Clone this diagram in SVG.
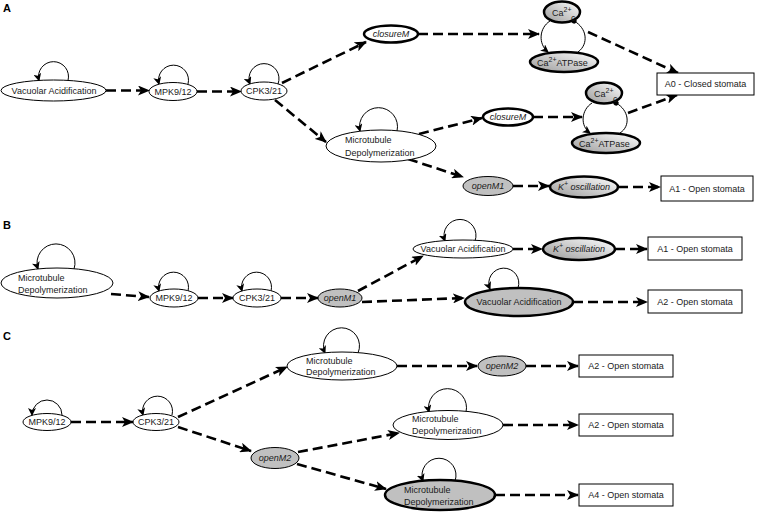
<svg xmlns="http://www.w3.org/2000/svg" width="758" height="512" viewBox="0 0 758 512">
<style>
text{font-family:"Liberation Sans",Arial,sans-serif;font-size:9px;fill:#1a1a1a}
.c{text-anchor:middle}
.i{font-style:italic}
.p{font-weight:bold;font-size:11px;fill:#000}
.n{fill:#fff;stroke:#000;stroke-width:1}
.g{fill:#c0c0c0}
.k{stroke-width:2.5}
.gr{fill:url(#grad)}
.box{fill:#fff;stroke:#000;stroke-width:1}
.e{fill:none;stroke:#000;stroke-width:2.6;stroke-dasharray:10 5;marker-end:url(#ah)}
.l{fill:none;stroke:#000;stroke-width:1;marker-end:url(#la)}
.d{fill:none;stroke:#000;stroke-width:1;marker-end:url(#dot)}
</style>
<defs>
<linearGradient id="grad" x1="0" y1="1" x2="1" y2="0">
<stop offset="0" stop-color="#9a9a9a"/>
<stop offset="1" stop-color="#ffffff"/>
</linearGradient>
<marker id="ah" markerUnits="userSpaceOnUse" markerWidth="12" markerHeight="10" refX="11" refY="5" orient="auto" viewBox="0 0 12 10"><path d="M0,0 L12,5 L0,10 L3,5z" fill="#000"/></marker>
<marker id="la" markerUnits="userSpaceOnUse" markerWidth="8" markerHeight="8" refX="7" refY="4" orient="auto" viewBox="0 0 8 8"><path d="M0,0 L8,4 L0,8 L2,4z" fill="#000"/></marker>
<marker id="dot" markerUnits="userSpaceOnUse" markerWidth="6" markerHeight="6" refX="3" refY="3" orient="auto" viewBox="0 0 6 6"><circle cx="3" cy="3" r="2.6" fill="#000"/></marker>
</defs>

<text class="p" x="3" y="12">A</text>
<text class="p" x="3" y="229">B</text>
<text class="p" x="3" y="340">C</text>

<g id="connectors">
<!-- Panel A -->
<path class="e" d="M106,90.5 L149,90.5"/>
<path class="e" d="M197,91.5 L241,91.5"/>
<path class="e" d="M282,83 L366,42"/>
<path class="e" d="M275,100 L326,142"/>
<path class="e" d="M418,34 L539,34"/>
<path class="e" d="M588,32 L678,73"/>
<path class="e" d="M419,134 L482,118"/>
<path class="e" d="M533,117 L582,117"/>
<path class="e" d="M628,113 L677,95"/>
<path class="e" d="M408,159 L463,177"/>
<path class="e" d="M513,186 L549,186"/>
<path class="e" d="M618,187 L660,187"/>
<path class="l" d="M68,80.5 A15,15 0 1 0 39,80.5"/>
<path class="l" d="M188,84 A15,15 0 1 0 159,84"/>
<path class="l" d="M278,84 A15,15 0 1 0 250,84"/>
<path class="l" d="M397,131 A19,19 0 1 0 360,131"/>
<path class="l" d="M550,21 C539,28 538,44 548,52"/>
<path class="d" d="M578,52 C589,44 587,28 574,21"/>
<path class="l" d="M592,103 C581,110 580,126 590,133"/>
<path class="d" d="M620,133 C631,126 629,110 616,103"/>
<!-- Panel B -->
<path class="e" d="M111,294 L149,297"/>
<path class="e" d="M198,298 L233,298"/>
<path class="e" d="M281,298 L318,298"/>
<path class="e" d="M358,291 L423,256"/>
<path class="e" d="M513,249 L542,249"/>
<path class="e" d="M615,249 L647,249"/>
<path class="e" d="M362,302 L464,298"/>
<path class="e" d="M573,302 L647,302"/>
<path class="l" d="M74,269 A19,19 0 1 0 38,269"/>
<path class="l" d="M188,291 A15,15 0 1 0 159,291"/>
<path class="l" d="M271,291 A15,15 0 1 0 242,291"/>
<path class="l" d="M475,241 A16,16 0 1 0 445,241"/>
<path class="l" d="M518,288 A15,15 0 1 0 490,289"/>
<!-- Panel C -->
<path class="e" d="M71,422 L133,422"/>
<path class="e" d="M178,417 L287,367"/>
<path class="e" d="M397,366 L477,366"/>
<path class="e" d="M526,366 L578,366"/>
<path class="e" d="M178,427 L251,451"/>
<path class="e" d="M298,452 L399,433"/>
<path class="e" d="M503,425 L578,425"/>
<path class="e" d="M297,464 L386,489"/>
<path class="e" d="M495,495 L578,495"/>
<path class="l" d="M62,415 A15,15 0 1 0 32,415"/>
<path class="l" d="M172,415 A15,15 0 1 0 143,415"/>
<path class="l" d="M358,353 A18,18 0 1 0 325,353"/>
<path class="l" d="M466,412 A19,19 0 1 0 429,412"/>
<path class="l" d="M455,481 A17,17 0 1 0 423,481"/>
</g>

<!-- Panel A nodes -->
<g id="a-vac"><ellipse class="n" cx="53.5" cy="90.5" rx="52.5" ry="10.5"/><text class="c" x="54" y="93.5">Vacuolar Acidification</text></g>
<g id="a-mpk"><ellipse class="n" cx="173" cy="91.5" rx="24" ry="9"/><text class="c" x="173" y="94.5">MPK9/12</text></g>
<g id="a-cpk"><ellipse class="n" cx="264" cy="91" rx="23" ry="9"/><text class="c" x="264" y="94">CPK3/21</text></g>
<g id="a-closure1"><ellipse class="n k" cx="391" cy="34" rx="27" ry="8.5"/><text class="c i" x="391" y="37">closureM</text></g>
<g id="a-ca1"><ellipse class="n k gr" cx="562" cy="12" rx="18" ry="10.5"/><text x="552" y="16">Ca<tspan font-size="7" dy="-4">2+</tspan></text><text x="571" y="21" font-size="7">c</text></g>
<g id="a-atp1"><ellipse class="n k gr" cx="564" cy="62" rx="34" ry="10"/><text x="537" y="66">Ca<tspan font-size="7" dy="-4">2+</tspan><tspan dy="4">ATPase</tspan></text></g>
<g id="a-a0"><rect class="box" x="657" y="73" width="97" height="22"/><text class="c" x="705.5" y="87">A0 - Closed stomata</text></g>
<g id="a-md"><ellipse class="n" cx="381" cy="146" rx="55" ry="16"/><text x="345" y="143">Microtubule</text><text x="345" y="156">Depolymerization</text></g>
<g id="a-closure2"><ellipse class="n k" cx="508" cy="117" rx="25" ry="8.5"/><text class="c i" x="508" y="120">closureM</text></g>
<g id="a-ca2"><ellipse class="n k gr" cx="604" cy="93" rx="18" ry="10.5"/><text x="594" y="97">Ca<tspan font-size="7" dy="-4">2+</tspan></text><text x="613" y="102" font-size="7">c</text></g>
<g id="a-atp2"><ellipse class="n k gr" cx="606" cy="143" rx="34" ry="10"/><text x="579" y="147">Ca<tspan font-size="7" dy="-4">2+</tspan><tspan dy="4">ATPase</tspan></text></g>
<g id="a-openm1"><ellipse class="n g" cx="488" cy="186" rx="25" ry="9.5"/><text class="c i" x="488" y="189">openM1</text></g>
<g id="a-k"><ellipse class="n k gr" cx="584" cy="187" rx="34" ry="10.5"/><text class="c i" x="584" y="190">K<tspan font-size="7" dy="-4">+</tspan><tspan dy="4"> oscillation</tspan></text></g>
<g id="a-a1"><rect class="box" x="661" y="176" width="92" height="25"/><text class="c" x="707" y="191.5">A1 - Open stomata</text></g>

<!-- Panel B nodes -->
<g id="b-md"><ellipse class="n" cx="57" cy="283" rx="56" ry="15"/><text x="18" y="281">Microtubule</text><text x="18" y="293">Depolymerization</text></g>
<g id="b-mpk"><ellipse class="n" cx="174" cy="298" rx="24" ry="9"/><text class="c" x="174" y="301">MPK9/12</text></g>
<g id="b-cpk"><ellipse class="n" cx="257" cy="298" rx="24" ry="9"/><text class="c" x="257" y="301">CPK3/21</text></g>
<g id="b-openm1"><ellipse class="n g" cx="340" cy="298" rx="22" ry="9"/><text class="c i" x="340" y="301">openM1</text></g>
<g id="b-vac1"><ellipse class="n" cx="463" cy="249" rx="50" ry="9"/><text class="c" x="463" y="252">Vacuolar Acidification</text></g>
<g id="b-k"><ellipse class="n k gr" cx="579" cy="249" rx="36" ry="11"/><text class="c i" x="579" y="252">K<tspan font-size="7" dy="-4">+</tspan><tspan dy="4"> oscillation</tspan></text></g>
<g id="b-a1"><rect class="box" x="648" y="237" width="94" height="23"/><text class="c" x="695" y="251.5">A1 - Open stomata</text></g>
<g id="b-vac2"><ellipse class="n g k" cx="519" cy="302" rx="54" ry="14"/><text class="c" x="519" y="305">Vacuolar Acidification</text></g>
<g id="b-a2"><rect class="box" x="648" y="290" width="94" height="23"/><text class="c" x="695" y="304.5">A2 - Open stomata</text></g>

<!-- Panel C nodes -->
<g id="c-mpk"><ellipse class="n" cx="47" cy="422" rx="24" ry="8.5"/><text class="c" x="47" y="425">MPK9/12</text></g>
<g id="c-cpk"><ellipse class="n" cx="156" cy="422" rx="23" ry="8.5"/><text class="c" x="156" y="425">CPK3/21</text></g>
<g id="c-md1"><ellipse class="n" cx="342" cy="366" rx="55" ry="14"/><text x="306" y="364">Microtubule</text><text x="306" y="375">Depolymerization</text></g>
<g id="c-openm2a"><ellipse class="n g" cx="502" cy="366" rx="24" ry="10"/><text class="c i" x="502" y="369">openM2</text></g>
<g id="c-a2a"><rect class="box" x="579" y="355" width="94" height="22"/><text class="c" x="626" y="369">A2 - Open stomata</text></g>
<g id="c-openm2b"><ellipse class="n g" cx="275" cy="458" rx="24" ry="10.5"/><text class="c i" x="275" y="461">openM2</text></g>
<g id="c-md2"><ellipse class="n" cx="448" cy="425" rx="55" ry="14.5"/><text x="412" y="422">Microtubule</text><text x="412" y="434">Depolymerization</text></g>
<g id="c-a2b"><rect class="box" x="579" y="414" width="94" height="22"/><text class="c" x="626" y="428">A2 - Open stomata</text></g>
<g id="c-md3"><ellipse class="n g k" cx="440" cy="495" rx="55" ry="15"/><text x="404" y="493">Microtubule</text><text x="404" y="505">Depolymerization</text></g>
<g id="c-a4"><rect class="box" x="579" y="484" width="94" height="22"/><text class="c" x="626" y="498">A4 - Open stomata</text></g>
</svg>
